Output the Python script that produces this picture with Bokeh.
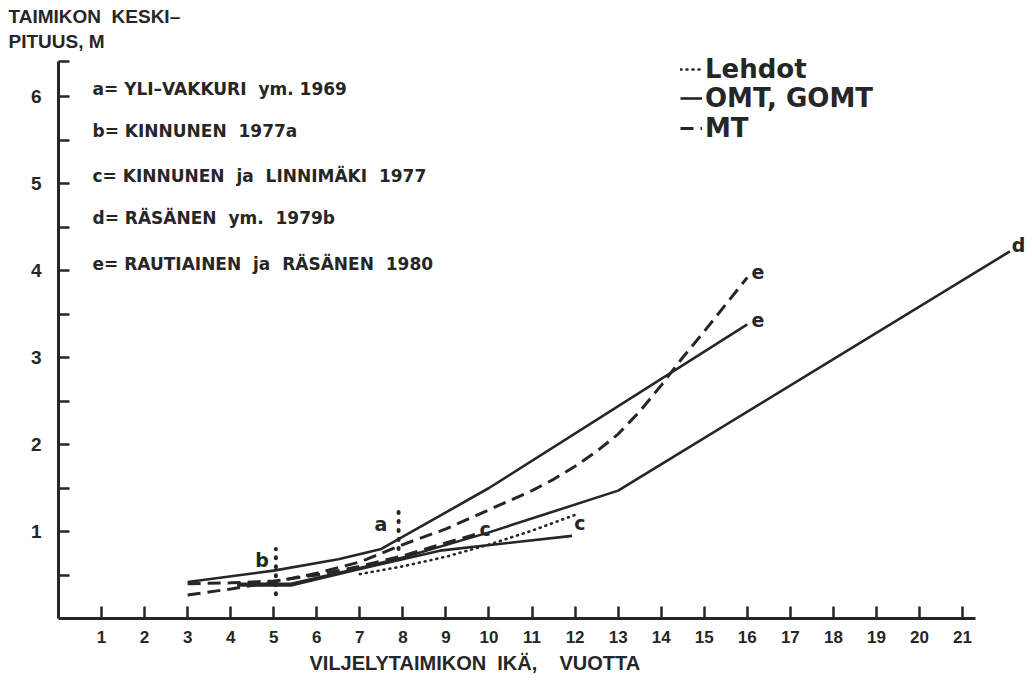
from bokeh.plotting import figure
from bokeh.models import Range1d, FixedTicker, Label, Legend, LegendItem, Title
from bokeh.embed import file_html
from bokeh.resources import INLINE

# ---------------- data ----------------
# e = Rautiainen ja Räsänen 1980
e_omt_age = [3, 5, 6.5, 7.5, 8, 9, 10, 16]
e_omt_h = [0.42, 0.55, 0.68, 0.80, 0.94, 1.22, 1.50, 3.38]
e_mt_age = [3, 4, 5, 6, 7, 8, 9, 10, 11, 11.5, 12, 12.5, 13, 13.5, 14, 14.5, 15, 16]
e_mt_h = [0.27, 0.34, 0.42, 0.52, 0.65, 0.85, 1.03, 1.25, 1.47, 1.60, 1.75, 1.92, 2.12, 2.38, 2.68, 3.00, 3.30, 3.92]
# d = Räsänen ym. 1979b
d_omt_age = [4.15, 5.4, 7, 8, 10, 13, 22.1]
d_omt_h = [0.40, 0.40, 0.58, 0.70, 0.99, 1.47, 4.22]
# c = Kinnunen ja Linnimäki 1977
c_omt_age = [4.15, 5.4, 7, 8.86, 11.93]
c_omt_h = [0.38, 0.38, 0.57, 0.78, 0.95]
c_mt_age = [3, 4, 5, 6, 7, 8, 8.8, 9.7]
c_mt_h = [0.40, 0.41, 0.43, 0.50, 0.60, 0.72, 0.84, 0.97]
c_lehdot_age = [7.0, 8, 9, 10, 11, 12.05]
c_lehdot_h = [0.51, 0.60, 0.71, 0.85, 1.01, 1.20]
# a = Yli-Vakkuri ym. 1969, b = Kinnunen 1977a (ranges)
a_age = 7.9
a_range = [0.80, 1.25]
b_age = 5.05
b_range = [0.28, 0.80]

x_ticks = list(range(1, 22))
y_ticks = [1, 2, 3, 4, 5, 6]
y_minor = [0.5, 1.5, 2.5, 3.5, 4.5, 5.5, 6.4]

NB = "\u00a0"
refs = [
    "a=" + NB + "YLI–VAKKURI" + NB * 2 + "ym." + NB + "1969",
    "b=" + NB + "KINNUNEN" + NB * 2 + "1977a",
    "c=" + NB + "KINNUNEN" + NB * 2 + "ja" + NB * 2 + "LINNIMÄKI" + NB * 2 + "1977",
    "d=" + NB + "RÄSÄNEN" + NB * 2 + "ym." + NB * 2 + "1979b",
    "e=" + NB + "RAUTIAINEN" + NB * 2 + "ja" + NB * 2 + "RÄSÄNEN" + NB * 2 + "1980",
]
ref_y = [6.09, 5.60, 5.09, 4.60, 4.08]

INK = "#262626"

p = figure(width=1032, height=681, x_range=Range1d(0, 22.625), y_range=Range1d(0, 6.506),
           output_backend="svg", toolbar_location=None,
           min_border_left=58, min_border_right=0, min_border_top=52, min_border_bottom=63)
p.outline_line_color = None
p.xgrid.visible = False
p.ygrid.visible = False

# y-axis title (horizontal, top-left)
p.title.text = "TAIMIKON" + NB * 2 + "KESKI–\nPITUUS," + NB + "M"
p.title.align = "left"
p.title.offset = -50
p.title.standoff = 0
p.title.text_font = "Liberation Sans"
p.title.text_font_size = "19px"
p.title.text_font_style = "bold"
p.title.text_color = INK
p.title.text_line_height = 1.2

# axes
xa = p.xaxis[0]
xa.ticker = FixedTicker(ticks=x_ticks, minor_ticks=[])
xa.bounds = (0, 21.3)
xa.axis_line_width = 3
xa.axis_line_color = INK
xa.major_tick_in = 12
xa.major_tick_out = 0
xa.major_tick_line_width = 2.5
xa.major_tick_line_color = INK
xa.minor_tick_line_color = None
xa.major_label_standoff = 12
xa.major_label_text_font = "Liberation Sans"
xa.major_label_text_font_style = "bold"
xa.major_label_text_font_size = "17px"
xa.major_label_text_color = INK

ya = p.yaxis[0]
ya.ticker = FixedTicker(ticks=y_ticks, minor_ticks=y_minor)
ya.bounds = (0, 6.4)
ya.axis_line_width = 3
ya.axis_line_color = INK
ya.major_tick_in = 11
ya.major_tick_out = 0
ya.minor_tick_in = 11
ya.minor_tick_out = 0
ya.major_tick_line_width = 2.5
ya.minor_tick_line_width = 2.5
ya.major_tick_line_color = INK
ya.minor_tick_line_color = INK
ya.major_label_standoff = 17
ya.major_label_text_font = "Liberation Sans"
ya.major_label_text_font_style = "bold"
ya.major_label_text_font_size = "19px"
ya.major_label_text_color = INK

# x-axis title
xt = Title(text="VILJELYTAIMIKON" + NB * 2 + "IKÄ," + NB * 4 + "VUOTTA", align="left", offset=251,
           standoff=9, text_font="Liberation Sans", text_font_size="20px",
           text_font_style="bold", text_color=INK)
p.add_layout(xt, "below")

# series
r_e_omt = p.line(e_omt_age, e_omt_h, line_color=INK, line_width=2.6)
r_e_mt = p.line(e_mt_age, e_mt_h, line_color=INK, line_width=3, line_dash="13 7")
p.line(d_omt_age, d_omt_h, line_color=INK, line_width=2.6)
p.line(c_omt_age, c_omt_h, line_color=INK, line_width=2.6)
p.line(c_mt_age, c_mt_h, line_color=INK, line_width=3, line_dash="13 7")
r_leh = p.line(c_lehdot_age, c_lehdot_h, line_color=INK, line_width=2.6, line_dash="1 5", line_cap="round")
p.line([a_age, a_age], a_range, line_color=INK, line_width=4, line_dash="1 8", line_cap="round")
p.line([b_age, b_age], b_range, line_color=INK, line_width=4, line_dash="1 8", line_cap="round")

# line-end labels
def lab(x, y, t, size="19px", align="center", font="DejaVu Sans"):
    p.add_layout(Label(x=x, y=y, text=t, text_align=align, text_baseline="middle",
                       text_font=font, text_font_style="bold", text_font_size=size,
                       text_color=INK))

lab(7.49, 1.09, "a")
lab(4.73, 0.67, "b")
lab(9.91, 1.03, "c")
lab(12.11, 1.10, "c")
lab(16.25, 3.98, "e")
lab(16.25, 3.43, "e")
lab(22.30, 4.29, "d")

for t, y in zip(refs, ref_y):
    lab(0.79, y, t, size="17px", align="left")

# legend: one row per Legend so that rows can sit close together
leg_rows = [("Lehdot", r_leh, 534), ("OMT, GOMT", r_e_omt, 505), ("MT", r_e_mt, 475)]
for name, rend, yy in leg_rows:
    lg = Legend(items=[LegendItem(label=name, renderers=[rend])],
                location=(622, yy), border_line_color=None, background_fill_alpha=0,
                padding=0, margin=0, spacing=0, glyph_width=22, glyph_height=20,
                label_standoff=3, label_text_font="DejaVu Sans", label_text_font_style="bold",
                label_text_font_size="26px", label_text_color=INK)
    p.add_layout(lg)

open("out.html", "w").write(file_html(p, INLINE))
